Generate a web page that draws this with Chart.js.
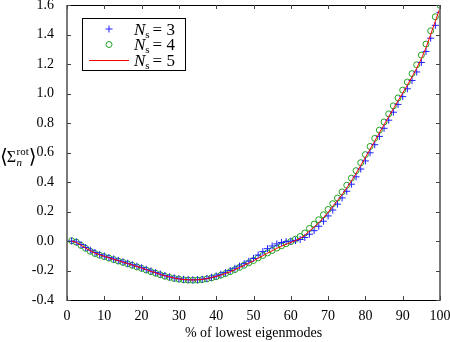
<!DOCTYPE html>
<html><head><meta charset="utf-8">
<script src="https://cdn.jsdelivr.net/npm/chart.js@4/dist/chart.umd.min.js"></script>
<style>html,body{margin:0;padding:0;background:#fff}#wrap{width:450px;height:342px}</style>
</head><body><div id="wrap"><canvas id="c" width="450" height="342"></canvas></div>
<script>
const xPercent = [1.25,2.5,3.75,5,6.25,7.5,8.75,10,11.25,12.5,13.75,15,16.25,17.5,18.75,20,21.25,22.5,23.75,25,26.25,27.5,28.75,30,31.25,32.5,33.75,35,36.25,37.5,38.75,40,41.25,42.5,43.75,45,46.25,47.5,48.75,50,51.25,52.5,53.75,55,56.25,57.5,58.75,60,61.25,62.5,63.75,65,66.25,67.5,68.75,70,71.25,72.5,73.75,75,76.25,77.5,78.75,80,81.25,82.5,83.75,85,86.25,87.5,88.75,90,91.25,92.5,93.75,95,96.25,97.5,98.75,100];
const seriesNs3 = [0.000,-0.006,-0.024,-0.044,-0.062,-0.078,-0.091,-0.102,-0.112,-0.122,
 -0.131,-0.141,-0.151,-0.161,-0.171,-0.181,-0.192,-0.203,-0.214,-0.224,
 -0.234,-0.243,-0.250,-0.256,-0.260,-0.262,-0.263,-0.262,-0.259,-0.254,
 -0.246,-0.237,-0.226,-0.214,-0.200,-0.185,-0.170,-0.154,-0.137,-0.118,
 -0.095,-0.072,-0.052,-0.034,-0.020,-0.010,-0.004,-0.001,0.003,0.010,
 0.024,0.046,0.070,0.100,0.134,0.170,0.210,0.250,0.292,0.337,
 0.385,0.435,0.488,0.543,0.598,0.653,0.709,0.764,0.819,0.873,
 0.926,0.979,1.032,1.088,1.146,1.210,1.285,1.375,1.462,1.550];
const seriesNs4 = [0.002,-0.008,-0.030,-0.050,-0.070,-0.085,-0.097,-0.106,-0.116,-0.126,
 -0.136,-0.145,-0.155,-0.165,-0.176,-0.186,-0.197,-0.208,-0.219,-0.229,
 -0.239,-0.247,-0.254,-0.259,-0.263,-0.265,-0.266,-0.265,-0.262,-0.257,
 -0.250,-0.242,-0.232,-0.221,-0.208,-0.194,-0.179,-0.164,-0.148,-0.132,
 -0.115,-0.098,-0.081,-0.064,-0.048,-0.033,-0.018,-0.004,0.012,0.030,
 0.054,0.085,0.114,0.144,0.178,0.214,0.253,0.291,0.333,0.378,
 0.426,0.477,0.531,0.586,0.641,0.696,0.752,0.807,0.862,0.916,
 0.970,1.023,1.078,1.135,1.195,1.260,1.335,1.425,1.520,1.598];
const seriesNs5 = [0.000,-0.010,-0.028,-0.048,-0.066,-0.082,-0.094,-0.104,-0.114,-0.124,
 -0.133,-0.143,-0.153,-0.163,-0.173,-0.183,-0.194,-0.205,-0.216,-0.226,
 -0.236,-0.244,-0.251,-0.257,-0.261,-0.263,-0.264,-0.263,-0.260,-0.255,
 -0.248,-0.240,-0.231,-0.220,-0.208,-0.194,-0.180,-0.165,-0.150,-0.134,
 -0.117,-0.100,-0.083,-0.066,-0.050,-0.036,-0.022,-0.010,0.003,0.018,
 0.038,0.068,0.095,0.124,0.158,0.194,0.236,0.273,0.315,0.360,
 0.408,0.458,0.512,0.567,0.622,0.677,0.733,0.788,0.843,0.897,
 0.950,1.003,1.057,1.113,1.172,1.236,1.310,1.400,1.490,1.580];
const legendValues = ['3','4','5'];
const xTitle = '% of lowest eigenmodes';

const toPts = ys => xPercent.map((x,i)=>({x:x,y:ys[i]}));
const SERIF = '"Liberation Serif","DejaVu Serif",serif';

const framePlugin = {
  id:'frame',
  afterDatasetsDraw(chart){
    const {ctx, chartArea:a, scales:{x,y}} = chart;
    ctx.save();
    ctx.fillStyle='#000';
    ctx.fillRect(a.left, a.top, a.right-a.left+1, 1);
    ctx.fillRect(a.left, a.bottom, a.right-a.left+1, 1);
    ctx.fillStyle='#7a7a7a';
    ctx.fillRect(a.left-1, a.top, 2, a.bottom-a.top+1);
    ctx.fillRect(a.right-1, a.top, 2, a.bottom-a.top+1);
    ctx.strokeStyle='#444'; ctx.lineWidth=1;
    ctx.beginPath();
    x.ticks.forEach(t=>{const px=Math.round(x.getPixelForValue(t.value))+0.5;
      ctx.moveTo(px,a.bottom); ctx.lineTo(px,a.bottom-4);
      ctx.moveTo(px,a.top); ctx.lineTo(px,a.top+4);});
    y.ticks.forEach(t=>{const py=Math.round(y.getPixelForValue(t.value))+0.5;
      ctx.moveTo(a.left,py); ctx.lineTo(a.left+4,py);
      ctx.moveTo(a.right,py); ctx.lineTo(a.right-4,py);});
    ctx.stroke();
    // y title  <Sigma_n^rot>
    ctx.fillStyle='#000'; ctx.textBaseline='alphabetic'; ctx.textAlign='left';
    let yy=162, xx=0;
    ctx.font='20px '+SERIF; ctx.fillText('⟨',xx,yy+1); xx+=ctx.measureText('⟨').width-1;
    ctx.font='16px '+SERIF; ctx.fillText('Σ',xx,yy); xx+=ctx.measureText('Σ').width+0.5;
    ctx.font='11px '+SERIF; ctx.fillText('rot',xx,yy-7);
    const wRot=ctx.measureText('rot').width;
    ctx.font='italic 11px '+SERIF; ctx.fillText('n',xx,yy+4);
    xx+=wRot;
    ctx.font='20px '+SERIF; ctx.fillText('⟩',xx,yy+1);
    // legend
    const L=82,T=18,R=185,B=70;
    ctx.fillStyle='#fff'; ctx.fillRect(L,T,R-L,B-T);
    ctx.strokeStyle='#000'; ctx.lineWidth=1; ctx.strokeRect(L+0.5,T+0.5,R-L,B-T);
    const rows=[29,44.5,60.5];
    ctx.strokeStyle='#2020ff'; ctx.beginPath();
    ctx.moveTo(105.5,rows[0]); ctx.lineTo(112.5,rows[0]);
    ctx.moveTo(109,rows[0]-3.5); ctx.lineTo(109,rows[0]+3.5); ctx.stroke();
    ctx.strokeStyle='#22a022'; ctx.beginPath(); ctx.arc(109,rows[1],3,0,Math.PI*2); ctx.stroke();
    ctx.strokeStyle='#ff0000'; ctx.beginPath(); ctx.moveTo(89,rows[2]); ctx.lineTo(129,rows[2]); ctx.stroke();
    ctx.fillStyle='#000';
    rows.forEach((ry,i)=>{
      let tx=134; const by=ry+5.5;
      ctx.font='italic 17px '+SERIF; ctx.fillText('N',tx,by); tx+=ctx.measureText('N').width;
      ctx.font='11px '+SERIF; ctx.fillText('s',tx,by+3); tx+=ctx.measureText('s').width+3;
      ctx.font='17px '+SERIF; ctx.fillText('= '+legendValues[i],tx,by);
    });
    ctx.restore();
  }
};

new Chart(document.getElementById('c'),{
  type:'line',
  data:{datasets:[
    {label:'N_s = 5',data:toPts(seriesNs5),borderColor:'#ff0000',borderWidth:1,pointRadius:0,fill:false,tension:0},
    {label:'N_s = 3',data:toPts(seriesNs3),showLine:false,pointStyle:'cross',pointRadius:3.5,borderColor:'#2020ff',borderWidth:1,backgroundColor:'transparent'},
    {label:'N_s = 4',data:toPts(seriesNs4),showLine:false,pointStyle:'circle',pointRadius:3,borderColor:'#22a022',borderWidth:1,backgroundColor:'transparent'}
  ]},
  options:{
    responsive:false,animation:false,
    layout:{padding:{top:5,right:10,left:0,bottom:0}},
    plugins:{legend:{display:false},tooltip:{enabled:false}},
    scales:{
      x:{type:'linear',min:0,max:100,
        ticks:{stepSize:10,color:'#000',font:{family:SERIF,size:14},padding:0,maxRotation:0},
        grid:{display:false},border:{display:false},
        title:{display:true,text:xTitle,color:'#000',font:{family:SERIF,size:14},padding:{top:3,bottom:0}},
        afterFit:s=>{s.height=42;s.paddingLeft=0;s.paddingRight=0;}},
      y:{min:-0.4,max:1.6,
        ticks:{stepSize:0.2,color:'#000',font:{family:SERIF,size:14},padding:5,callback:v=>v.toFixed(1)},
        grid:{display:false},border:{display:false},
        afterFit:s=>{s.width=67;s.paddingTop=0;s.paddingBottom=0;}}
    }
  },
  plugins:[framePlugin]
});
</script></body></html>
